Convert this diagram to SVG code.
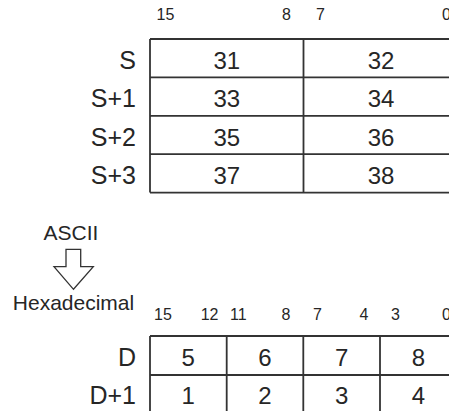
<svg xmlns="http://www.w3.org/2000/svg" width="449" height="411" viewBox="0 0 449 411">
<style>
text{font-family:"Liberation Sans",Arial,sans-serif;fill:#262626}
.bit{font-size:16px}
.big{font-size:24px;text-anchor:middle}
.lbl{font-size:25px;text-anchor:end}
.mid{font-size:21px;text-anchor:middle}
.ln{stroke:#333;stroke-width:1.8;fill:none}
</style>
<rect width="449" height="411" fill="#fff"/>
<g id="src-bits">
<text class="bit" x="156.5" y="20">15</text>
<text class="bit" x="291" y="20" text-anchor="end">8</text>
<text class="bit" x="316" y="20">7</text>
<text class="bit" x="442" y="20">0</text>
</g>
<g id="src-table">
<path class="ln" d="M150,39H460M150,77.4H460M150,115.8H460M150,154.2H460M150,192.6H460M150,39V192.6M303.5,39V192.6"/>
<text class="lbl" x="136" y="68.5">S</text>
<text class="lbl" x="136" y="107">S+1</text>
<text class="lbl" x="136" y="145.5">S+2</text>
<text class="lbl" x="136" y="184">S+3</text>
<text class="big" x="226.8" y="68.5">31</text>
<text class="big" x="381" y="68.5">32</text>
<text class="big" x="226.8" y="107">33</text>
<text class="big" x="381" y="107">34</text>
<text class="big" x="226.8" y="145.5">35</text>
<text class="big" x="381" y="145.5">36</text>
<text class="big" x="226.8" y="184">37</text>
<text class="big" x="381" y="184">38</text>
</g>
<g id="convert">
<text class="mid" x="71" y="240">ASCII</text>
<path d="M66,249.3H80.7V266.7H93.3L73.5,289.3L54,266.7H66Z" fill="#fff" stroke="#333" stroke-width="1.3" stroke-linejoin="miter"/>
<text class="mid" x="73.5" y="310">Hexadecimal</text>
</g>
<g id="dst-bits">
<text class="bit" x="154" y="319.5">15</text>
<text class="bit" x="218.5" y="319.5" text-anchor="end">12</text>
<text class="bit" x="230" y="319.5">11</text>
<text class="bit" x="290.5" y="319.5" text-anchor="end">8</text>
<text class="bit" x="313" y="319.5">7</text>
<text class="bit" x="368.5" y="319.5" text-anchor="end">4</text>
<text class="bit" x="391" y="319.5">3</text>
<text class="bit" x="442" y="319.5">0</text>
</g>
<g id="dst-table">
<path class="ln" d="M150,336H460M150,375H460M150,336V412M226.7,336V412M303.3,336V412M380,336V412"/>
<text class="lbl" x="136" y="365.5">D</text>
<text class="lbl" x="136" y="404">D+1</text>
<text class="big" x="188.3" y="365.5">5</text>
<text class="big" x="265" y="365.5">6</text>
<text class="big" x="341.7" y="365.5">7</text>
<text class="big" x="418.5" y="365.5">8</text>
<text class="big" x="188.3" y="404">1</text>
<text class="big" x="265" y="404">2</text>
<text class="big" x="341.7" y="404">3</text>
<text class="big" x="418.5" y="404">4</text>
</g>
</svg>
